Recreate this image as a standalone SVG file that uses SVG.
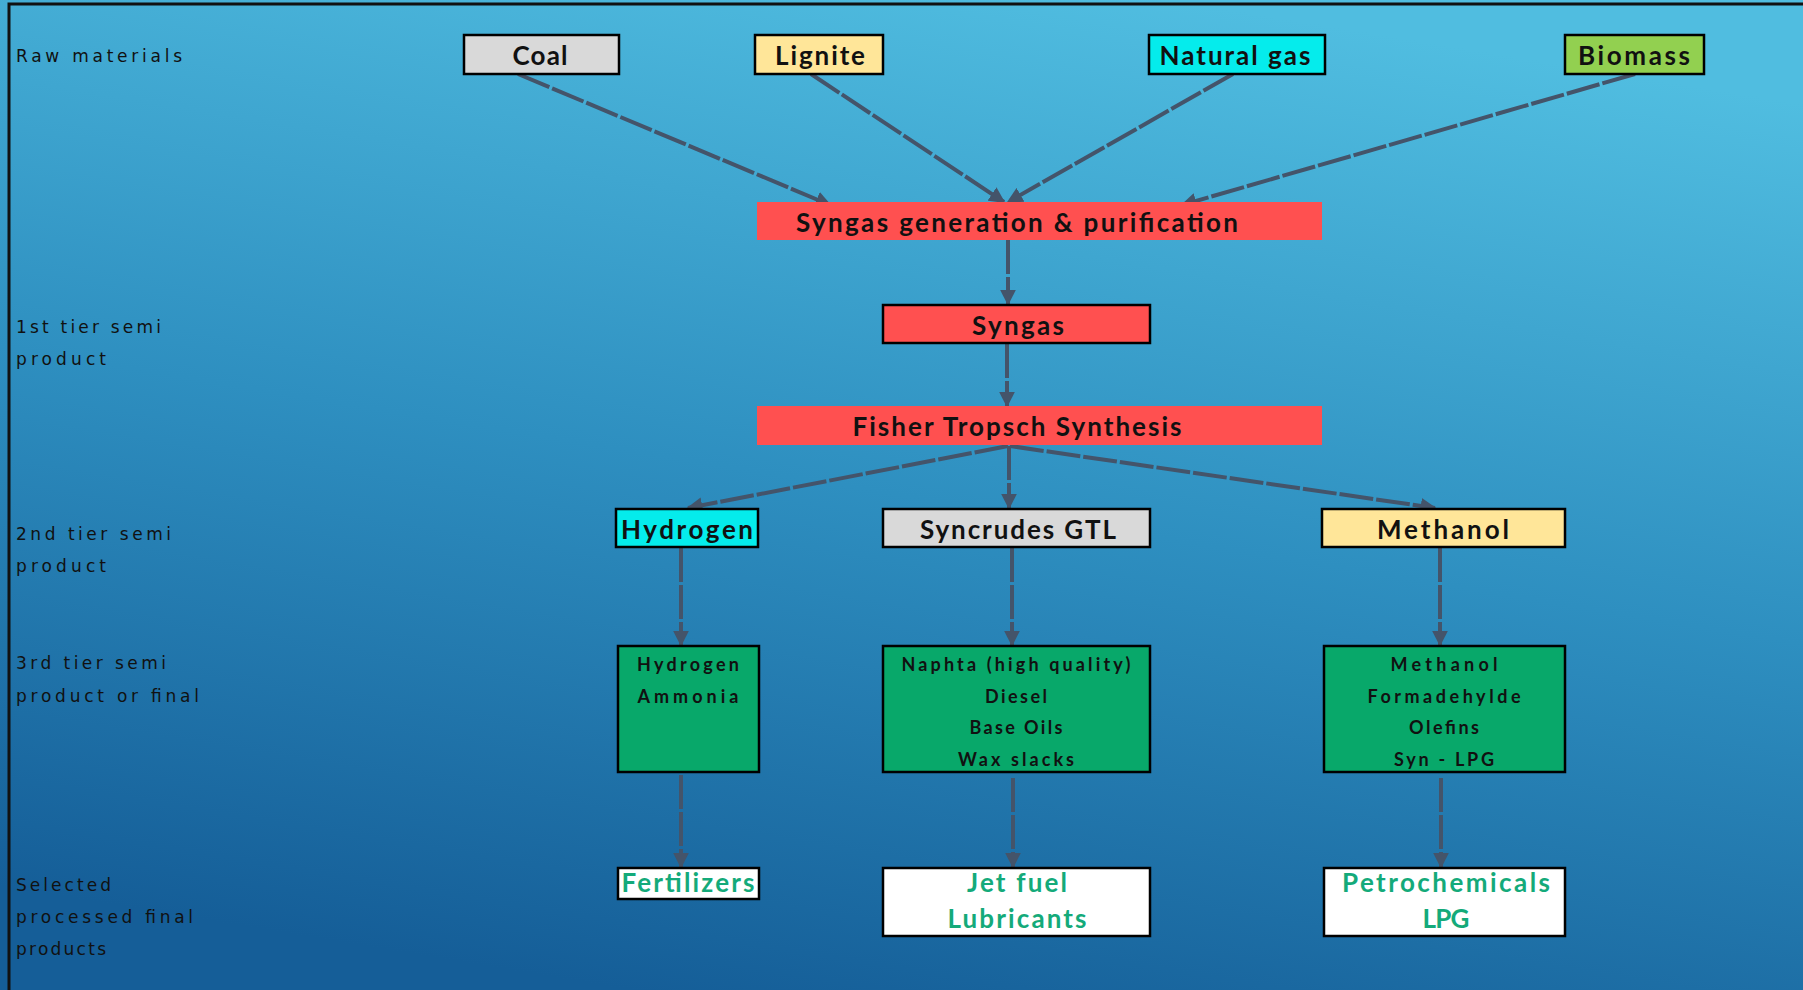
<svg xmlns="http://www.w3.org/2000/svg" width="1803" height="990" viewBox="0 0 1803 990">
<defs>
<linearGradient id="bg" x1="0.65" y1="0" x2="0.35" y2="1">
<stop offset="0" stop-color="#50bde0"/>
<stop offset="0.5" stop-color="#2e8fc0"/>
<stop offset="1" stop-color="#155e98"/>
</linearGradient>
<marker id="ah" viewBox="0 0 10 10" refX="9" refY="5" markerWidth="4" markerHeight="4" orient="auto" markerUnits="strokeWidth">
<path d="M0,0 L10,5 L0,10 z" fill="#44546a"/>
</marker>
<style>
.box{stroke:#000;stroke-width:2.5}
.nb{stroke:none}
.t{font-family:"Lato","Open Sans","DejaVu Sans",sans-serif;font-size:26px;font-weight:bold;fill:#111;text-anchor:middle;dominant-baseline:central}
.s{font-family:"Lato","DejaVu Sans",sans-serif;font-size:18px;font-weight:bold;fill:#111;text-anchor:middle;dominant-baseline:central}
.lab{font-family:"DejaVu Sans","Liberation Sans",sans-serif;font-size:17px;fill:#111}
.g{font-family:"Lato","Open Sans","DejaVu Sans",sans-serif;font-size:26px;font-weight:bold;fill:#14aa7a;text-anchor:middle;dominant-baseline:central}
.c{stroke:#44546a;stroke-width:4;fill:none;stroke-dasharray:34 3;marker-end:url(#ah)}
</style>
</defs>
<rect width="1803" height="990" fill="url(#bg)"/>
<path d="M9,990 V4 H1803" fill="none" stroke="#111" stroke-width="3"/>

<g id="labels">
<text class="lab" x="16" y="62" textLength="166" lengthAdjust="spacing">Raw materials</text>
<text class="lab" x="16" y="333" textLength="145" lengthAdjust="spacing">1st tier semi</text>
<text class="lab" x="16" y="365" textLength="90" lengthAdjust="spacing">product</text>
<text class="lab" x="16" y="540" textLength="155" lengthAdjust="spacing">2nd tier semi</text>
<text class="lab" x="16" y="572" textLength="90" lengthAdjust="spacing">product</text>
<text class="lab" x="16" y="669" textLength="150" lengthAdjust="spacing">3rd tier semi</text>
<text class="lab" x="16" y="702" textLength="183" lengthAdjust="spacing">product or final</text>
<text class="lab" x="16" y="891" textLength="95" lengthAdjust="spacing">Selected</text>
<text class="lab" x="16" y="923" textLength="177" lengthAdjust="spacing">processed final</text>
<text class="lab" x="16" y="955" textLength="90" lengthAdjust="spacing">products</text>
</g>

<g id="connectors">
<line class="c" x1="518" y1="74" x2="830" y2="205"/>
<line class="c" x1="811" y1="74" x2="1004" y2="202"/>
<line class="c" x1="1233" y1="74" x2="1008" y2="202"/>
<line class="c" x1="1635" y1="74" x2="1182" y2="205"/>
<line class="c" x1="1008" y1="240" x2="1008" y2="304"/>
<line class="c" x1="1007" y1="344" x2="1007" y2="406"/>
<line class="c" x1="1008" y1="446" x2="688" y2="508"/>
<line class="c" x1="1009" y1="446" x2="1009" y2="508"/>
<line class="c" x1="1010" y1="446" x2="1435" y2="508"/>
<line class="c" x1="681" y1="548" x2="681" y2="645"/>
<line class="c" x1="1012" y1="548" x2="1012" y2="645"/>
<line class="c" x1="1440" y1="548" x2="1440" y2="645"/>
<line class="c" x1="681" y1="775" x2="681" y2="867"/>
<line class="c" x1="1013" y1="778" x2="1013" y2="867"/>
<line class="c" x1="1441" y1="778" x2="1441" y2="867"/>
</g>

<g id="coal"><rect class="box" x="464" y="35" width="155" height="39" fill="#d9d9d9"/><text class="t" x="540" y="55" textLength="55" lengthAdjust="spacing">Coal</text></g>
<g id="lignite"><rect class="box" x="755" y="35" width="128" height="39" fill="#ffe699"/><text class="t" x="820" y="55" textLength="90" lengthAdjust="spacing">Lignite</text></g>
<g id="natural-gas"><rect class="box" x="1149" y="35" width="176" height="39" fill="#05ecec"/><text class="t" x="1235" y="55" textLength="151" lengthAdjust="spacing">Natural gas</text></g>
<g id="biomass"><rect class="box" x="1565" y="35" width="139" height="39" fill="#92d050"/><text class="t" x="1634" y="55" textLength="112" lengthAdjust="spacing">Biomass</text></g>

<g id="syngas-gen"><rect class="nb" x="757" y="202" width="565" height="38" fill="#ff5050"/><text class="t" x="1017" y="222" textLength="442" lengthAdjust="spacing">Syngas generation &amp; purification</text></g>
<g id="syngas"><rect class="box" x="883" y="305" width="267" height="38" fill="#ff5050"/><text class="t" x="1018" y="325" textLength="92" lengthAdjust="spacing">Syngas</text></g>
<g id="fisher"><rect class="nb" x="757" y="406" width="565" height="39" fill="#ff5050"/><text class="t" x="1017" y="426" textLength="329" lengthAdjust="spacing">Fisher Tropsch Synthesis</text></g>

<g id="hydrogen"><rect class="box" x="616" y="509" width="142" height="38" fill="#05ecec"/><text class="t" x="687" y="529" textLength="132" lengthAdjust="spacing">Hydrogen</text></g>
<g id="syncrudes"><rect class="box" x="883" y="509" width="267" height="38" fill="#d9d9d9"/><text class="t" x="1018" y="529" textLength="196" lengthAdjust="spacing">Syncrudes GTL</text></g>
<g id="methanol"><rect class="box" x="1322" y="509" width="243" height="38" fill="#ffe699"/><text class="t" x="1443" y="529" textLength="132" lengthAdjust="spacing">Methanol</text></g>

<g id="h-products"><rect class="box" x="618" y="646" width="141" height="126" fill="#08a86a"/>
<text class="s" x="688" y="664" textLength="102" lengthAdjust="spacing">Hydrogen</text><text class="s" x="688" y="696" textLength="101" lengthAdjust="spacing">Ammonia</text></g>
<g id="gtl-products"><rect class="box" x="883" y="646" width="267" height="126" fill="#08a86a"/>
<text class="s" x="1016" y="664" textLength="229" lengthAdjust="spacing">Naphta (high quality)</text><text class="s" x="1016" y="696" textLength="62" lengthAdjust="spacing">Diesel</text><text class="s" x="1016" y="727" textLength="93" lengthAdjust="spacing">Base Oils</text><text class="s" x="1016" y="759" textLength="116" lengthAdjust="spacing">Wax slacks</text></g>
<g id="m-products"><rect class="box" x="1324" y="646" width="241" height="126" fill="#08a86a"/>
<text class="s" x="1444" y="664" textLength="107" lengthAdjust="spacing">Methanol</text><text class="s" x="1444" y="696" textLength="153" lengthAdjust="spacing">Formadehylde</text><text class="s" x="1444" y="727" textLength="70" lengthAdjust="spacing">Olefins</text><text class="s" x="1444" y="759" textLength="100" lengthAdjust="spacing">Syn - LPG</text></g>

<g id="fertilizers"><rect class="box" x="618" y="868" width="141" height="31" fill="#fff"/><text class="g" x="688" y="882" textLength="133" lengthAdjust="spacing">Fertilizers</text></g>
<g id="jetfuel"><rect class="box" x="883" y="868" width="267" height="68" fill="#fff"/><text class="g" x="1017" y="882" textLength="100" lengthAdjust="spacing">Jet fuel</text><text class="g" x="1017" y="918" textLength="139" lengthAdjust="spacing">Lubricants</text></g>
<g id="petro"><rect class="box" x="1324" y="868" width="241" height="68" fill="#fff"/><text class="g" x="1446" y="882" textLength="208" lengthAdjust="spacing">Petrochemicals</text><text class="g" x="1446" y="918" textLength="47" lengthAdjust="spacing">LPG</text></g>
</svg>
